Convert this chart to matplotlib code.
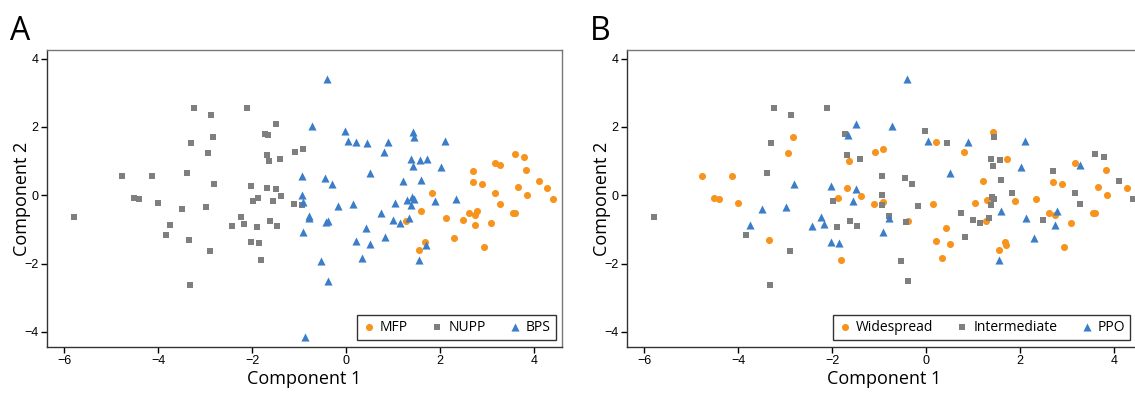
#!/usr/bin/env python3
"""Two-panel PCA scatter (component 1 vs component 2), coloured by two groupings."""
import matplotlib
matplotlib.use("Agg")
import matplotlib.pyplot as plt
import numpy as np

# ---- data: one row per sample ----
pc1 = [
    # NUPP samples
    -3.24, -2.88, -3.30, -2.83, -2.95, -4.78, -4.13, -3.39, -2.82, -4.51,
    -4.42, -5.79, -4.00, -3.50, -2.99, -3.76, -3.83, -3.34, -2.90, -3.33,
    -2.11, -1.49, -1.73, -1.66, -1.68, -1.64, -1.41, -1.10, -0.93, -2.02,
    -1.69, -1.49, -1.38, -1.88, -1.98, -1.57, -1.11, -0.94, -2.24, -2.44,
    -2.17, -1.90, -1.62, -1.48, -2.03, -1.86, -1.81,
    # BPS samples
    -0.42, -0.73, -0.03, 0.03, 0.20, 0.45, 0.89, 0.80, 0.51, -0.94,
    -0.46, -0.30, -0.95, 1.42, 1.44, 2.10, 1.37, 1.56, 1.71, 1.41,
    2.02, 1.20, 1.58, 1.03, 1.29, 1.40, 1.45, 1.38, 1.88, 2.33,
    0.73, 1.00, 1.15, 1.33, 0.83, 1.70, 1.54, -0.93, -0.80, -0.80,
    -0.43, -0.38, -0.92, -0.17, 0.14, 0.42, 0.20, 0.51, 0.34, -0.54,
    -0.40, -0.88,
    # MFP samples
    2.69, 2.69, 2.88, 3.17, 3.27, 3.59, 3.78, 3.82, 4.10, 4.28,
    3.66, 3.16, 3.85, 1.83, 4.39, 1.59, 2.12, 2.48, 2.61, 2.73,
    2.78, 2.73, 3.07, 3.27, 3.54, 3.59, 2.29, 2.94, 1.68, 1.55,
    1.27,
]
pc2 = [
    2.56, 2.34, 1.52, 1.71, 1.23, 0.56, 0.56, 0.64, 0.33, -0.08,
    -0.10, -0.64, -0.23, -0.39, -0.34, -0.86, -1.16, -1.32, -1.64, -2.64,
    2.56, 2.09, 1.79, 1.75, 1.18, 1.00, 1.07, 1.26, 1.35, 0.28,
    0.22, 0.18, -0.01, -0.09, -0.18, -0.17, -0.25, -0.28, -0.63, -0.91,
    -0.85, -0.93, -0.76, -0.90, -1.37, -1.39, -1.89,
    3.41, 2.03, 1.89, 1.60, 1.57, 1.54, 1.56, 1.27, 0.65, 0.55,
    0.51, 0.34, 0.00, 1.85, 1.69, 1.60, 1.07, 1.02, 1.06, 0.86,
    0.82, 0.43, 0.44, -0.23, -0.15, -0.06, -0.11, -0.28, -0.16, -0.11,
    -0.53, -0.72, -0.81, -0.68, -1.22, -1.47, -1.89, -0.21, -0.61, -0.68,
    -0.78, -0.74, -1.07, -0.31, -0.25, -0.97, -1.33, -1.43, -1.85, -1.91,
    -2.52, -4.14,
    0.71, 0.39, 0.32, 0.94, 0.88, 1.21, 1.11, 0.75, 0.42, 0.21,
    0.23, 0.08, 0.02, 0.07, -0.10, -0.46, -0.66, -0.72, -0.51, -0.59,
    -0.45, -0.86, -0.80, -0.27, -0.53, -0.51, -1.24, -1.52, -1.37, -1.61,
    -0.74,
]
group_a = ["NUPP"] * 47 + ["BPS"] * 52 + ["MFP"] * 31
group_b = list(
    "IIIWWWWIPWWIWPPPIWII"
    "IPIPIWIWWPWPWWIPWIPP"
    "PIIIPPW"
    "PPIPWIPWPIIIIWIPIIWI"
    "PWIWWIIIWWIIIIIWPWIP"
    "IWPIWWWWWIII"
    "IWWWPIIWIWWIWIIPPIWW"
    "PPWIWWPWWWW"
)
b_names = {"W": "Widespread", "I": "Intermediate", "P": "PPO"}
group_b = [b_names[g] for g in group_b]

labels_a = ["MFP", "NUPP", "BPS"]
labels_b = ["Widespread", "Intermediate", "PPO"]
xticks = [-6, -4, -2, 0, 2, 4]
yticks = [-4, -2, 0, 2, 4]

ORANGE = "#F7941D"
GRAY = "#7F7F7F"
BLUE = "#3B7DC8"
colors = [ORANGE, GRAY, BLUE]
markers = ["o", "s", "^"]
sizes = [26, 24, 34]

x = np.asarray(pc1)
y = np.asarray(pc2)

fig = plt.figure(figsize=(11.35, 3.94), dpi=100)
ax_a = fig.add_axes([47 / 1135, 47 / 394, 515 / 1135, 297 / 394])
ax_b = fig.add_axes([627 / 1135, 47 / 394, 515 / 1135, 297 / 394])


def draw_panel(ax, groups, labels, letter, leg_x):
    g = np.asarray(groups)
    for lab, c, m, s in zip(labels, colors, markers, sizes):
        sel = g == lab
        ax.scatter(x[sel], y[sel], s=s, c=c, marker=m, linewidths=0, label=lab, zorder=3)
    ax.set_xlim(-6.37, 4.59)
    ax.set_ylim(-4.44, 4.25)
    ax.set_xticks(xticks)
    ax.set_yticks(yticks)
    ax.tick_params(direction="out", length=4, width=1, labelsize=9, pad=2,
                   top=False, right=False)
    for lbl in ax.get_xticklabels() + ax.get_yticklabels():
        lbl.set_family("Liberation Sans")
    for side in ("left", "bottom"):
        ax.spines[side].set_color("#333333")
        ax.spines[side].set_linewidth(1.0)
    for side in ("top", "right"):
        ax.spines[side].set_color("#777777")
        ax.spines[side].set_linewidth(1.0)
    ax.set_xlabel("Component 1", fontsize=13, family="Open Sans", labelpad=2)
    ax.set_ylabel("Component 2", fontsize=13, family="Open Sans")
    ax.yaxis.set_label_coords(-0.031, 0.5)
    leg = ax.legend(
        loc="lower right", ncol=3, frameon=True, fancybox=False, framealpha=1.0,
        prop={"family": "Open Sans", "size": 10}, handletextpad=0.3, columnspacing=1.6,
        borderpad=0.35, handlelength=1.0, borderaxespad=0.0,
        bbox_to_anchor=(leg_x, 0.024),
    )
    leg.get_frame().set_edgecolor("#333333")
    leg.get_frame().set_linewidth(1.0)
    leg.set_zorder(5)
    ax.text(-0.072, 1.033, letter, transform=ax.transAxes, fontsize=23,
            family="Open Sans", va="baseline", ha="left")


draw_panel(ax_a, group_a, labels_a, "A", 0.988)
draw_panel(ax_b, group_b, labels_b, "B", 0.977)

fig.savefig("out.png", dpi=100)
